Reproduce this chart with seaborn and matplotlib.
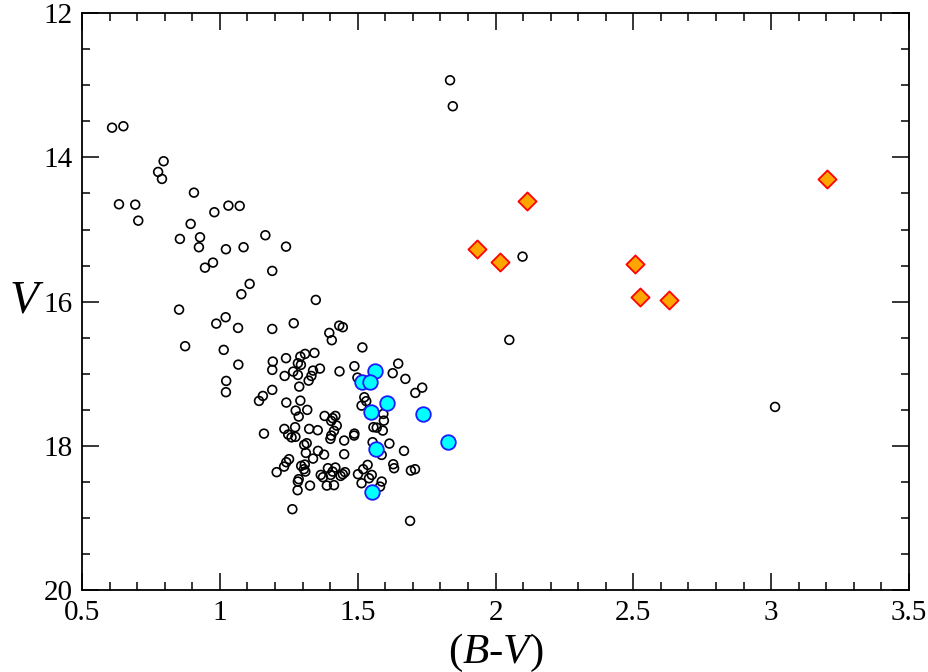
import numpy as np
import pandas as pd
import matplotlib
matplotlib.use("Agg")
import matplotlib.pyplot as plt
from matplotlib.ticker import MultipleLocator
import seaborn as sns

# field stars (open circles)
field_bv = [0.609, 0.650, 0.796, 0.776, 0.790, 0.634, 0.693, 0.704, 0.906, 0.980,
            1.031, 1.072, 0.894, 0.855, 0.928, 0.924, 1.022, 1.086, 1.165, 1.240,
            0.975, 0.946, 1.190, 1.108, 1.078, 1.348, 0.852, 1.021, 0.987, 1.066,
            1.190, 1.268, 0.874, 1.014, 1.023, 1.022, 1.067, 1.160, 1.192, 1.190,
            1.190, 1.156, 1.142, 1.240, 1.292, 1.309, 1.343, 1.283, 1.294, 1.266,
            1.235, 1.283, 1.338, 1.363, 1.332, 1.322, 1.288, 1.241, 1.292, 1.275,
            1.317, 1.286, 1.380, 1.419, 1.397, 1.406, 1.433, 1.446, 1.434, 1.517,
            1.488, 1.499, 1.647, 1.627, 1.673, 1.734, 1.709, 1.524, 1.531, 1.514,
            1.409, 1.593, 1.234, 1.248, 1.260, 1.274, 1.273, 1.324, 1.355, 1.404,
            1.414, 1.404, 1.401, 1.306, 1.315, 1.312, 1.356, 1.378, 1.338, 1.251,
            1.241, 1.233, 1.206, 1.295, 1.308, 1.305, 1.310, 1.392, 1.419, 1.366,
            1.374, 1.402, 1.286, 1.283, 1.327, 1.388, 1.414, 1.282, 1.263, 1.424,
            1.451, 1.488, 1.487, 1.557, 1.569, 1.591, 1.595, 1.554, 1.615, 1.668,
            1.451, 1.587, 1.629, 1.632, 1.693, 1.708, 1.409, 1.454, 1.446, 1.438,
            1.536, 1.520, 1.501, 1.551, 1.541, 1.514, 1.587, 1.581, 1.690, 1.835,
            1.845, 2.098, 2.050, 3.014]
field_v = [13.589, 13.569, 14.054, 14.202, 14.299, 14.650, 14.655, 14.877, 14.489, 14.760,
           14.669, 14.673, 14.922, 15.130, 15.107, 15.245, 15.273, 15.245, 15.079, 15.237,
           15.458, 15.528, 15.573, 15.753, 15.896, 15.975, 16.109, 16.215, 16.303, 16.363,
           16.377, 16.298, 16.616, 16.667, 17.097, 17.253, 16.871, 17.827, 16.829, 16.944,
           17.221, 17.305, 17.374, 16.782, 16.760, 16.723, 16.709, 16.852, 16.875, 16.968,
           17.028, 17.014, 16.954, 16.926, 17.028, 17.093, 17.176, 17.397, 17.370, 17.508,
           17.498, 17.591, 17.582, 17.582, 16.432, 16.533, 16.331, 16.353, 16.965, 16.633,
           16.893, 17.051, 16.857, 16.990, 17.069, 17.190, 17.263, 17.323, 17.378, 17.439,
           17.613, 17.554, 17.762, 17.840, 17.879, 17.872, 17.738, 17.762, 17.780, 17.651,
           17.789, 17.854, 17.900, 17.983, 17.960, 18.094, 18.066, 18.118, 18.173, 18.181,
           18.223, 18.284, 18.361, 18.274, 18.256, 18.320, 18.353, 18.306, 18.297, 18.399,
           18.431, 18.399, 18.458, 18.491, 18.547, 18.547, 18.541, 18.611, 18.874, 17.716,
           17.923, 17.827, 17.854, 17.738, 17.744, 17.785, 17.647, 17.946, 17.965, 18.066,
           18.112, 18.122, 18.251, 18.306, 18.339, 18.320, 18.353, 18.361, 18.389, 18.413,
           18.260, 18.320, 18.389, 18.399, 18.445, 18.514, 18.491, 18.561, 19.036, 12.932,
           13.292, 15.375, 16.529, 17.457]

# cyan members
member_bv = [1.562, 1.516, 1.545, 1.605, 1.549, 1.738, 1.566, 1.829, 1.553]
member_v = [16.954, 17.111, 17.107, 17.402, 17.522, 17.561, 18.043, 17.946, 18.638]

# orange diamonds
red_bv = [1.933, 2.015, 2.113, 2.506, 2.525, 2.628, 3.203]
red_v = [15.264, 15.444, 14.608, 15.476, 15.938, 15.971, 14.299]

sns.set_style("ticks")
plt.rcParams["font.family"] = ["Liberation Serif", "DejaVu Serif"]
plt.rcParams["mathtext.fontset"] = "custom"
plt.rcParams["mathtext.rm"] = "Liberation Serif"
plt.rcParams["mathtext.it"] = "Liberation Serif:italic"
# all text and ticks in plain black
for key in ["text.color", "axes.labelcolor", "xtick.color", "ytick.color",
            "axes.edgecolor"]:
    plt.rcParams[key] = "black"

fig = plt.figure(figsize=(9.29, 6.72), dpi=100)
ax = fig.add_axes([0.0883, 0.1213, 0.8902, 0.8594])

sns.scatterplot(x=field_bv, y=field_v, ax=ax, marker="o", s=40,
                facecolor="none", edgecolor="black", linewidth=1.2, zorder=2)
sns.scatterplot(x=member_bv, y=member_v, ax=ax, marker="o", s=110,
                color="#00ffff", edgecolor="#1a1aff", linewidth=1.3, zorder=3)
sns.scatterplot(x=red_bv, y=red_v, ax=ax, marker="D", s=85,
                color="#ffa500", edgecolor="#ff0000", linewidth=1.3, zorder=3)

ax.set_xlim(0.5, 3.5)
ax.set_ylim(20, 12)
ax.xaxis.set_minor_locator(MultipleLocator(0.1))
ax.yaxis.set_major_locator(MultipleLocator(2))
ax.yaxis.set_minor_locator(MultipleLocator(0.5))
ax.set_xticks([0.5, 1, 1.5, 2, 2.5, 3, 3.5])
ax.set_xticklabels(["0.5", "1", "1.5", "2", "2.5", "3", "3.5"])

ax.tick_params(which="both", direction="in", top=True, right=True,
               labelsize=21, width=1.1, color="black", labelcolor="black")
ax.tick_params(which="major", length=12, pad=7)
ax.tick_params(which="minor", length=6)
for sp in ax.spines.values():
    sp.set_linewidth(1.3)
    sp.set_color("black")

ax.set_xlabel("$(B$-$V)$", fontsize=31, labelpad=4, color="black")
ax.set_ylabel("V", fontsize=34, fontstyle="italic", rotation=0,
              labelpad=14, va="center", color="black")

fig.savefig("out.png", dpi=100)
